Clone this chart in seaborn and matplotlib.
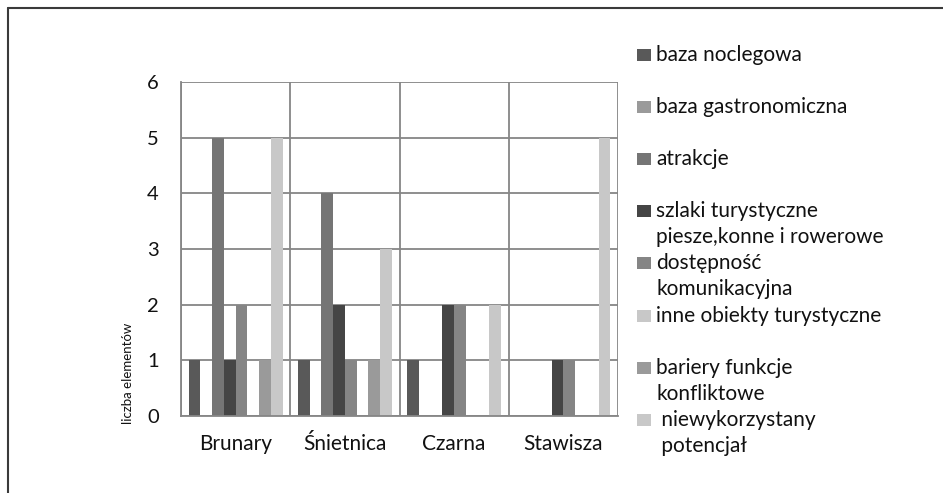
import matplotlib
matplotlib.use("Agg")
import matplotlib.pyplot as plt
import seaborn as sns
import pandas as pd
from matplotlib.patches import Rectangle
from matplotlib.lines import Line2D

# kategorie (miejscowości)
miejscowosci = ["Brunary", "Śnietnica", "Czarna", "Stawisza"]

# serie
serie = [
    "baza noclegowa",
    "baza gastronomiczna",
    "atrakcje",
    "szlaki turystyczne\npiesze,konne i rowerowe",
    "dostępność\nkomunikacyjna",
    "inne obiekty turystyczne",
    "bariery funkcje\nkonfliktowe",
    " niewykorzystany\n potencjał",
]

# wartości wg miejscowości (kolejność jak w seriach)
brunary = [1, 0, 5, 1, 2, 0, 1, 5]
snietnica = [1, 0, 4, 2, 1, 0, 1, 3]
czarna = [1, 0, 0, 2, 2, 0, 0, 2]
stawisza = [0, 0, 0, 1, 1, 0, 0, 5]

kolory = ["#595959", "#9a9a9a", "#757575", "#454545",
          "#858585", "#c8c8c8", "#9a9a9a", "#c8c8c8"]

wartosci = [brunary, snietnica, czarna, stawisza]
rows = []
for m, vals in zip(miejscowosci, wartosci):
    for s, v in zip(serie, vals):
        rows.append({"miejscowosc": m, "seria": s, "liczba": v})
df = pd.DataFrame(rows)

sns.set_style("white")
plt.rcParams["font.family"] = ["Lato", "DejaVu Sans"]
plt.rcParams["text.color"] = "#111111"

fig = plt.figure(figsize=(9.43, 4.93), dpi=100)
ax = fig.add_axes([181 / 943, 1 - 416 / 493, 437 / 943, 334 / 493])

sns.barplot(
    data=df, x="miejscowosc", y="liczba", hue="seria",
    order=miejscowosci, hue_order=serie, palette=kolory,
    saturation=1, width=0.86, linewidth=0, ax=ax, legend=False,
)

ax.set_ylim(0, 6)
ax.set_xlim(-0.5, len(miejscowosci) - 0.5)
ax.set_yticks(range(0, 7))
ax.set_xticks([i + 0.5 for i in range(-1, len(miejscowosci))], minor=True)
ax.grid(axis="y", color="#868686", linewidth=1.3)
ax.grid(axis="x", which="minor", color="#868686", linewidth=1.3)
ax.set_axisbelow(True)
for side in ["top", "right"]:
    ax.spines[side].set_visible(False)
for side in ["left", "bottom"]:
    ax.spines[side].set_color("#868686")
    ax.spines[side].set_linewidth(1.3)
ax.tick_params(axis="both", which="both", length=0, labelcolor="#111111")
ax.tick_params(axis="y", pad=16, labelsize=14.5)
ax.tick_params(axis="x", pad=13, labelsize=15)
ax.set_xlabel("")
ax.set_ylabel("")

fig.text(128 / 943, 1 - 373 / 493, "liczba elementów", rotation=90,
         ha="center", va="center", fontsize=9.5)

# legenda
for i, (lab, kol) in enumerate(zip(serie, kolory)):
    y = 55 + 52.1 * i
    fig.add_artist(Rectangle((637 / 943, 1 - (y + 6) / 493), 14 / 943, 12 / 493,
                             transform=fig.transFigure, color=kol, lw=0))
    for j, linia in enumerate(lab.split("\n")):
        fig.text(656 / 943, 1 - (y + 26 * j) / 493, linia,
                 ha="left", va="center", fontsize=15)

# ramka wykresu
fig.add_artist(Line2D([8 / 943, 8 / 943], [0, 1 - 8 / 493],
                      transform=fig.transFigure, color="#3a3a3a", lw=1.5))
fig.add_artist(Line2D([8 / 943, 1], [1 - 8 / 493, 1 - 8 / 493],
                      transform=fig.transFigure, color="#3a3a3a", lw=1.5))

fig.savefig("out.png", dpi=100)
